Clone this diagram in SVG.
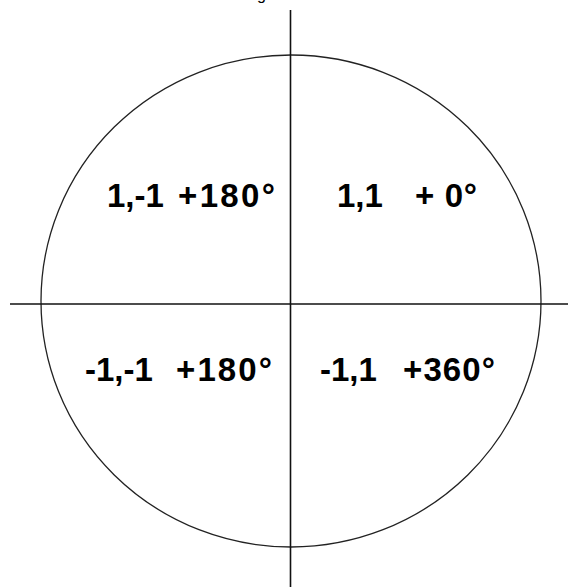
<svg xmlns="http://www.w3.org/2000/svg" width="568" height="587" viewBox="0 0 568 587">
<style>
.lbl{font-family:"Liberation Sans",Arial,sans-serif;font-weight:bold;font-size:33px;fill:#000;white-space:pre}
.ax{stroke:#111;stroke-width:1.6;fill:none}
.circ{stroke:#222;stroke-width:1.3;fill:none}
</style>
<rect width="568" height="587" fill="#fff"/>
<text x="257" y="0" style="font-family:'Liberation Sans',Arial,sans-serif;font-size:16px;fill:#000">g</text>
<g id="circle"><ellipse class="circ" cx="291" cy="301" rx="250" ry="246"/></g>
<g id="connectors">
<line class="ax" x1="290.5" y1="10" x2="290.5" y2="587"/>
<line class="ax" x1="10" y1="304" x2="568" y2="304"/>
</g>
<g id="q2"><text class="lbl" x="107" y="207">1,-1 <tspan x="178" textLength="97">+180°</tspan></text></g>
<g id="q1"><text class="lbl" x="337" y="207">1,1   <tspan x="415" textLength="62">+ 0°</tspan></text></g>
<g id="q3"><text class="lbl" x="85" y="381">-1,-1  <tspan x="176" textLength="96">+180°</tspan></text></g>
<g id="q4"><text class="lbl" x="320" y="381">-1,1  <tspan x="403" textLength="92">+360°</tspan></text></g>
</svg>
